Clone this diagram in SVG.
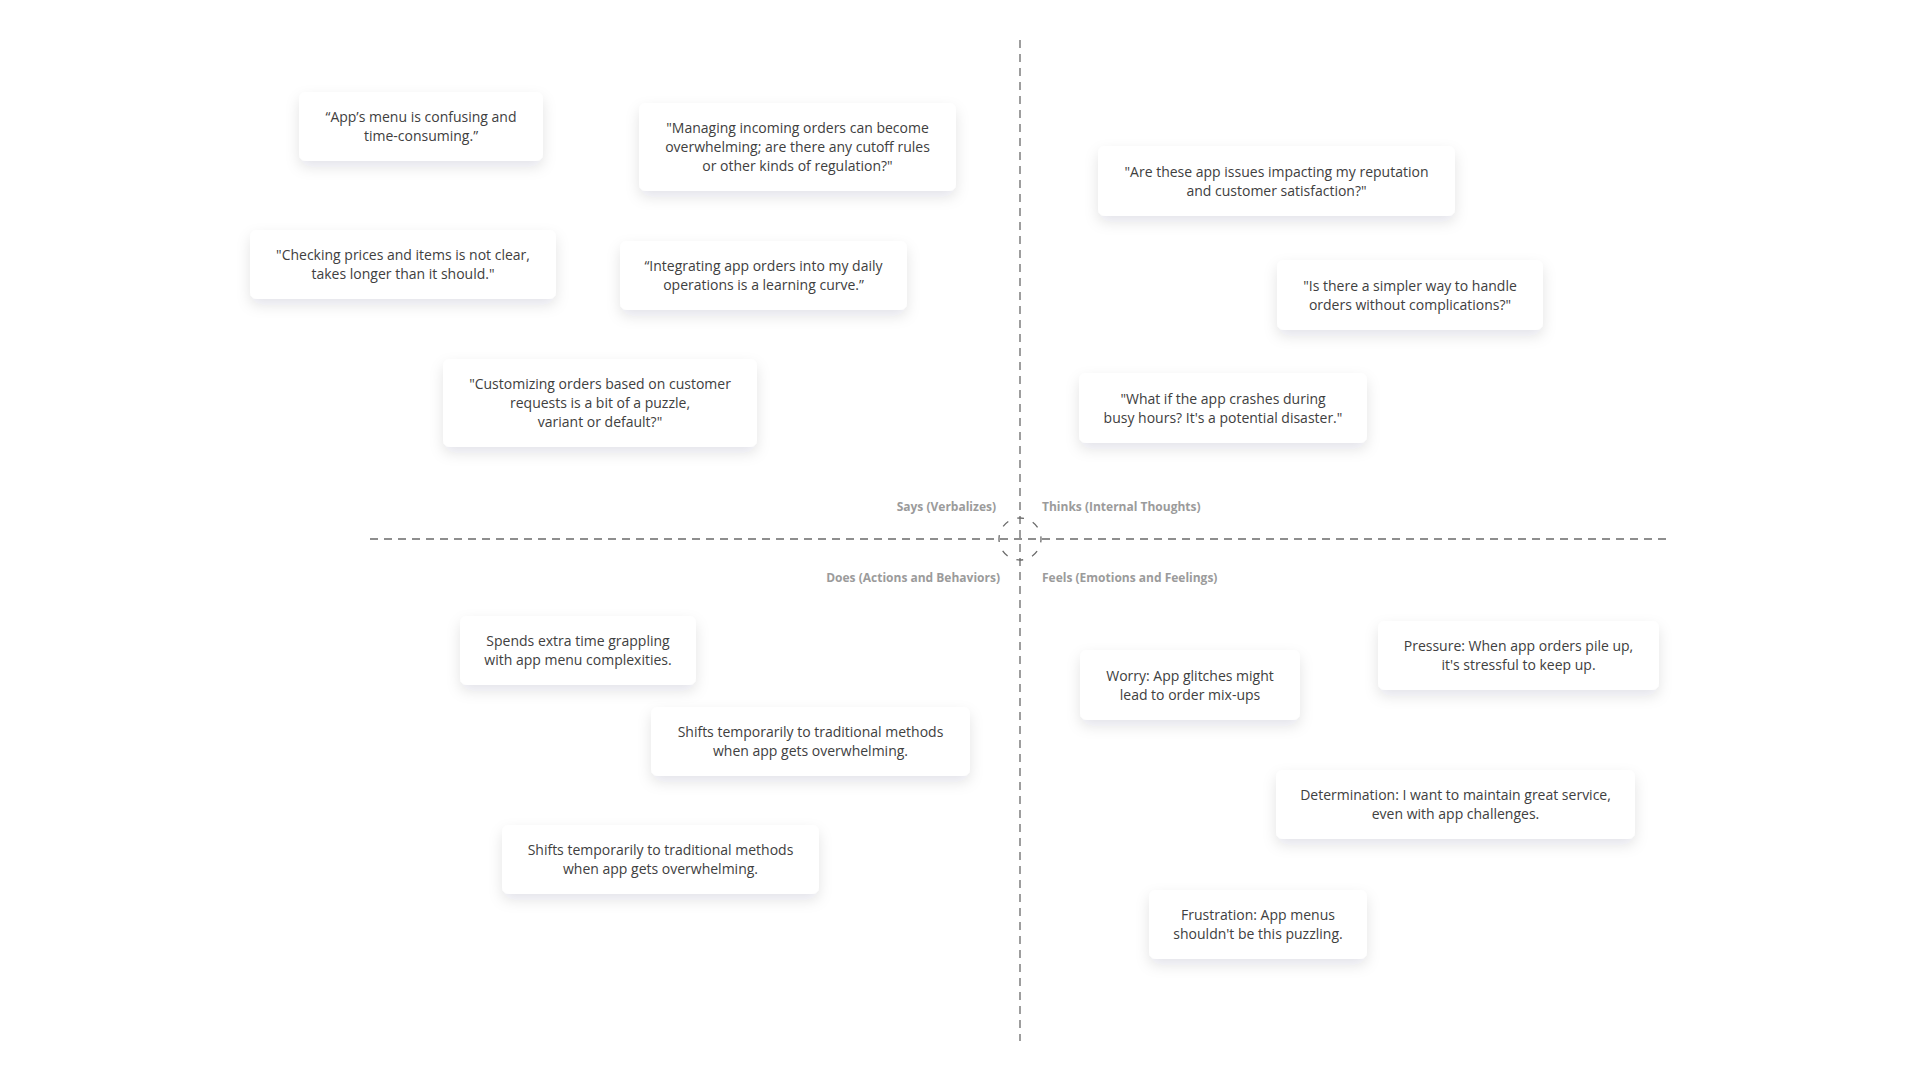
<svg xmlns="http://www.w3.org/2000/svg" width="1920" height="1080" viewBox="0 0 1920 1080">
<defs>
<filter id="sh" x="-20%" y="-30%" width="140%" height="180%">
<feDropShadow dx="0" dy="6" stdDeviation="7" flood-color="#1a1a40" flood-opacity="0.11"/>
</filter>
<style>
.card rect{fill:#fff;filter:url(#sh)}
.t{font-family:"Open Sans","Noto Sans",sans-serif;font-size:14px;fill:#404040;text-anchor:middle}
.lbl{font-family:"Open Sans","Noto Sans",sans-serif;font-size:12px;font-weight:700;fill:#9b9b9b}
.ax{stroke:#6a6a6a;stroke-width:1.3;fill:none;stroke-dasharray:8 6}
</style>
</defs>
<rect width="1920" height="1080" fill="#fff"/>
<g id="connectors">
<line class="ax" x1="1020" y1="40" x2="1020" y2="1041"/>
<line class="ax" x1="370" y1="539" x2="1669" y2="539"/>
<circle cx="1020" cy="539" r="21" fill="none" stroke="#6a6a6a" stroke-width="1.3" stroke-dasharray="7 9.49" stroke-dashoffset="3.5"/>
</g>
<g id="labels">
<text class="lbl" x="996" y="511" text-anchor="end">Says (Verbalizes)</text>
<text class="lbl" x="1042" y="511">Thinks (Internal Thoughts)</text>
<text class="lbl" x="1000" y="582" text-anchor="end">Does (Actions and Behaviors)</text>
<text class="lbl" x="1042" y="582">Feels (Emotions and Feelings)</text>
</g>
<g id="card-a" class="card"><rect x="299" y="92" width="244" height="69" rx="7"/>
<text class="t" x="421" y="122">“App’s menu is confusing and</text><text class="t" x="421" y="141">time-consuming.”</text></g>
<g id="card-b" class="card"><rect x="639" y="103" width="317" height="88" rx="7"/>
<text class="t" x="797.5" y="133">"Managing incoming orders can become</text><text class="t" x="797.5" y="152">overwhelming; are there any cutoff rules</text><text class="t" x="797.5" y="171">or other kinds of regulation?"</text></g>
<g id="card-c" class="card"><rect x="250" y="230" width="306" height="69" rx="7"/>
<text class="t" x="403" y="260">"Checking prices and items is not clear,</text><text class="t" x="403" y="279">takes longer than it should."</text></g>
<g id="card-d" class="card"><rect x="620" y="241" width="287" height="69" rx="7"/>
<text class="t" x="763.5" y="271">“Integrating app orders into my daily</text><text class="t" x="763.5" y="290">operations is a learning curve.”</text></g>
<g id="card-e" class="card"><rect x="443" y="359" width="314" height="88" rx="7"/>
<text class="t" x="600" y="389">"Customizing orders based on customer</text><text class="t" x="600" y="408">requests is a bit of a puzzle,</text><text class="t" x="600" y="427">variant or default?"</text></g>
<g id="card-f" class="card"><rect x="1098" y="146" width="357" height="70" rx="7"/>
<text class="t" x="1276.5" y="177">"Are these app issues impacting my reputation</text><text class="t" x="1276.5" y="196">and customer satisfaction?"</text></g>
<g id="card-g" class="card"><rect x="1277" y="260" width="266" height="70" rx="7"/>
<text class="t" x="1410" y="291">"Is there a simpler way to handle</text><text class="t" x="1410" y="310">orders without complications?"</text></g>
<g id="card-h" class="card"><rect x="1079" y="373" width="288" height="70" rx="7"/>
<text class="t" x="1223" y="404">"What if the app crashes during</text><text class="t" x="1223" y="423">busy hours? It's a potential disaster."</text></g>
<g id="card-i" class="card"><rect x="460" y="616" width="236" height="69" rx="7"/>
<text class="t" x="578" y="646">Spends extra time grappling</text><text class="t" x="578" y="665">with app menu complexities.</text></g>
<g id="card-j" class="card"><rect x="651" y="707" width="319" height="69" rx="7"/>
<text class="t" x="810.5" y="737">Shifts temporarily to traditional methods</text><text class="t" x="810.5" y="756">when app gets overwhelming.</text></g>
<g id="card-k" class="card"><rect x="502" y="825" width="317" height="69" rx="7"/>
<text class="t" x="660.5" y="855">Shifts temporarily to traditional methods</text><text class="t" x="660.5" y="874">when app gets overwhelming.</text></g>
<g id="card-l" class="card"><rect x="1080" y="650" width="220" height="70" rx="7"/>
<text class="t" x="1190" y="681">Worry: App glitches might</text><text class="t" x="1190" y="700">lead to order mix-ups</text></g>
<g id="card-m" class="card"><rect x="1378" y="621" width="281" height="69" rx="7"/>
<text class="t" x="1518.5" y="651">Pressure: When app orders pile up,</text><text class="t" x="1518.5" y="670">it's stressful to keep up.</text></g>
<g id="card-n" class="card"><rect x="1276" y="770" width="359" height="69" rx="7"/>
<text class="t" x="1455.5" y="800">Determination: I want to maintain great service,</text><text class="t" x="1455.5" y="819">even with app challenges.</text></g>
<g id="card-o" class="card"><rect x="1149" y="890" width="218" height="69" rx="7"/>
<text class="t" x="1258" y="920">Frustration: App menus</text><text class="t" x="1258" y="939">shouldn't be this puzzling.</text></g>
</svg>
